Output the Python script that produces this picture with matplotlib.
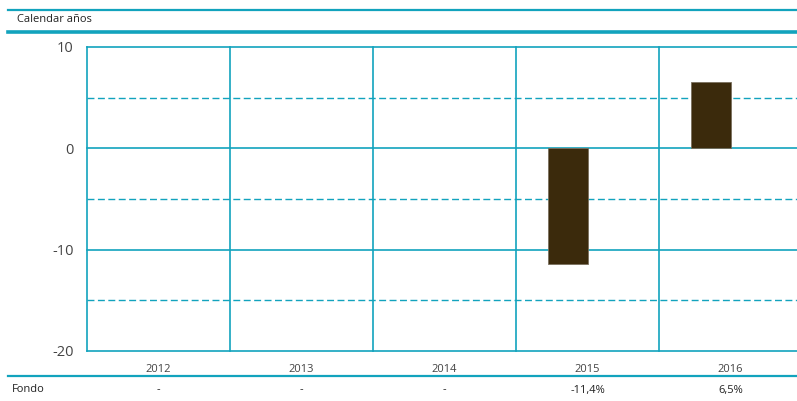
import matplotlib
matplotlib.use("Agg")
import matplotlib.pyplot as plt
from matplotlib.lines import Line2D

years = ["2012", "2013", "2014", "2015", "2016"]
fondo = [None, None, None, -11.4, 6.5]
fondo_labels = ["-", "-", "-", "-11,4%", "6,5%"]
yticks = [-20, -10, 0, 10]
dashed = [-15, -5, 5]

TEAL = "#12a3bd"
BAR = "#3b2a0c"
TXT = "#444444"
W, H = 797, 401

plt.rcParams['font.family'] = ['Open Sans', 'DejaVu Sans']
fig = plt.figure(figsize=(W / 100, H / 100), dpi=100)

def fx(px):
    return px / W

def fy(py):
    return 1 - py / H

ax_l, ax_r, ax_t, ax_b = 87, 802, 47, 351
ax = fig.add_axes([fx(ax_l), fy(ax_b), (ax_r - ax_l) / W, (ax_b - ax_t) / H])
n = len(years)
ax.set_xlim(-0.5, n - 0.5)
ax.set_ylim(-20, 10)
for s in ax.spines.values():
    s.set_visible(False)
ax.tick_params(length=0)
ax.set_xticks([])
ax.set_yticks(yticks)
ax.set_yticklabels([str(v) for v in yticks], fontsize=10.5, color=TXT)
ax.tick_params(axis='y', pad=9.5)

for v in yticks:
    ax.axhline(v, color=TEAL, lw=1.2, zorder=1, clip_on=False)
for v in dashed:
    ax.axhline(v, color=TEAL, lw=1.0, ls=(0, (5, 2.5)), zorder=1)
for i in range(n + 1):
    ax.axvline(i - 0.5, color=TEAL, lw=1.2, zorder=1, clip_on=False)

bw = 40 / 143
for i, v in enumerate(fondo):
    if v is not None:
        ax.bar(i - bw, v, width=bw, align='edge', color=BAR,
               edgecolor="#7a6f5e", linewidth=0.6, zorder=3)

# year labels
for i, y in enumerate(years):
    ax.text(i, -21.8, y, ha='center', va='center', fontsize=8, color=TXT,
            transform=ax.transData, clip_on=False)

# Fondo row
fig.text(fx(12), fy(390), "Fondo", ha='left', va='center', fontsize=8, color="#222222")
for i, lab in enumerate(fondo_labels):
    xpix = ax_l + (i + 0.5) * 143
    fig.text(fx(xpix), fy(390), lab, ha='center', va='center', fontsize=8, color="#222222")

# header
fig.add_artist(Line2D([fx(8), 1], [fy(10), fy(10)], color=TEAL, lw=1.6))
fig.add_artist(Line2D([fx(8), 1], [fy(31.5), fy(31.5)], color=TEAL, lw=2.6))
fig.text(fx(17), fy(19), "Calendar años", ha='left', va='center', fontsize=8, color="#222222")
fig.add_artist(Line2D([fx(8), 1], [fy(376), fy(376)], color=TEAL, lw=1.6))

fig.savefig("out.png", dpi=100)
